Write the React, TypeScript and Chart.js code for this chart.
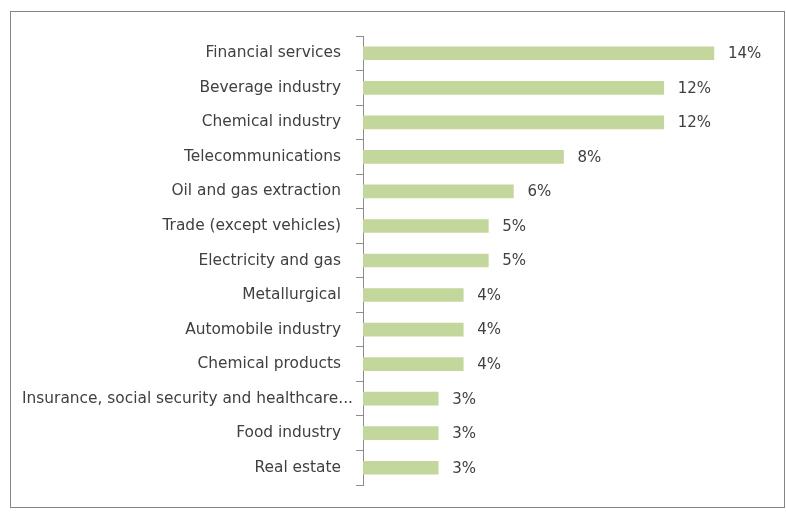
import React, { useEffect, useRef } from "react";
import { Chart, registerables } from "chart.js";

Chart.register(...registerables);

const categories = [
  "Financial services",
  "Beverage industry",
  "Chemical industry",
  "Telecommunications",
  "Oil and gas extraction",
  "Trade (except vehicles)",
  "Electricity and gas",
  "Metallurgical",
  "Automobile industry",
  "Chemical products",
  "Insurance, social security and healthcare...",
  "Food industry",
  "Real estate",
];
const shares = [14, 12, 12, 8, 6, 5, 5, 4, 4, 4, 3, 3, 3];
const overflowLabel = 10; // index of the label Excel lets run past the tick area

const FONT = "'DejaVu Sans', sans-serif";
const SIZE = 15.4;
const VALUE_SIZE = 15;
const TEXT = "#404040";

const frame = {
  id: "frame",
  beforeDraw(chart: any) {
    const ctx = chart.ctx;
    ctx.save();
    ctx.fillStyle = "#ffffff";
    ctx.fillRect(0, 0, chart.width, chart.height);
    ctx.strokeStyle = "#858585";
    ctx.lineWidth = 1;
    ctx.strokeRect(10.5, 11.5, 774, 496);
    ctx.restore();
  },
};

const extraLabels = {
  id: "extraLabels",
  afterDatasetsDraw(chart: any) {
    const ctx = chart.ctx;
    const meta = chart.getDatasetMeta(0);
    const yScale = chart.scales.y;
    ctx.save();
    ctx.fillStyle = TEXT;
    ctx.textBaseline = "middle";
    ctx.textAlign = "left";
    ctx.font = `${VALUE_SIZE}px ${FONT}`;
    meta.data.forEach((bar: any, i: number) => {
      ctx.fillText(shares[i] + "%", bar.x + 14, bar.y + 1);
    });
    ctx.font = `${SIZE}px ${FONT}`;
    ctx.textAlign = "right";
    const y = yScale.getPixelForValue(overflowLabel);
    ctx.fillText(categories[overflowLabel], yScale.right - 10, y);
    ctx.restore();
  },
};

export default function App() {
  const ref = useRef<HTMLCanvasElement>(null);
  useEffect(() => {
    if (!ref.current) return;
    const chart = new Chart(ref.current, {
      type: "bar",
      data: {
        labels: categories,
        datasets: [
          {
            data: shares,
            backgroundColor: "#c3d69b",
            barThickness: 13,
          },
        ],
      },
      options: {
        indexAxis: "y",
        animation: false,
        responsive: false,
        maintainAspectRatio: false,
        layout: { padding: { top: 36, bottom: 32, left: 0, right: 22 } },
        plugins: { legend: { display: false }, tooltip: { enabled: false } },
        scales: {
          x: { display: false, min: 0, max: 16 },
          y: {
            afterFit: (s: any) => {
              s.width = 363;
            },
            border: { display: true, color: "#8c8c8c", width: 1 },
            grid: {
              drawOnChartArea: false,
              drawTicks: true,
              tickLength: 7,
              color: "#8c8c8c",
              offset: true,
            },
            ticks: {
              padding: 15,
              color: (c: any) => (c.index === overflowLabel ? "rgba(0,0,0,0)" : TEXT),
              font: { family: FONT, size: SIZE },
            },
          },
        },
      },
      plugins: [frame, extraLabels],
    });
    return () => chart.destroy();
  }, []);
  return (
    <div style={{ position: "absolute", left: 0, top: 0, width: 786, height: 517 }}>
      <canvas ref={ref} width={786} height={517} style={{ display: "block" }} />
    </div>
  );
}
